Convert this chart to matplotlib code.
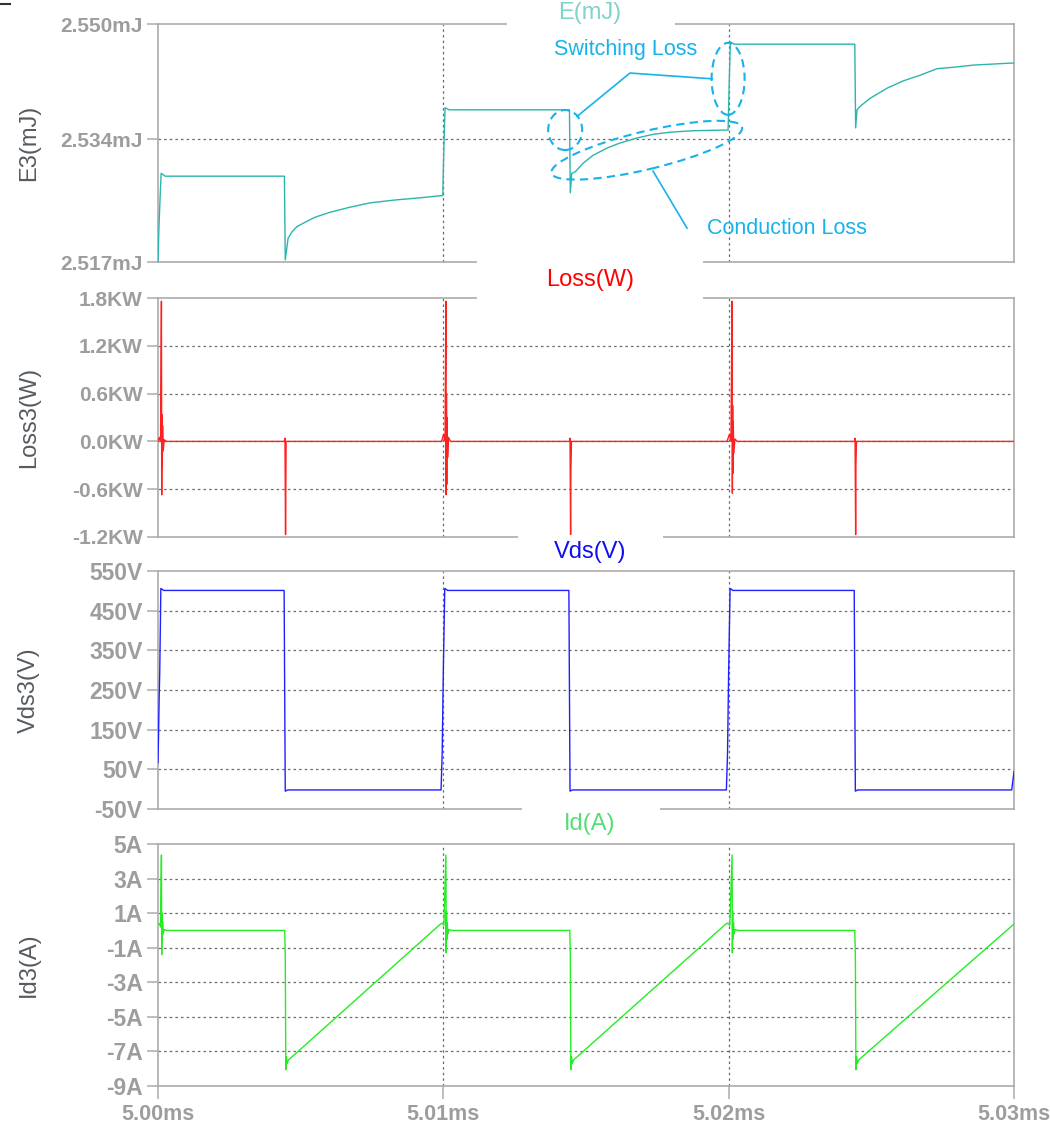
import matplotlib

matplotlib.use("Agg")
import matplotlib.pyplot as plt
from matplotlib.lines import Line2D
from matplotlib.patches import Ellipse, Rectangle
from matplotlib.transforms import ScaledTranslation

# Time axis: microseconds after 5.00 ms
X_TICKS = [0, 10, 20, 30]
X_TICK_LABELS = ["5.00ms", "5.01ms", "5.02ms", "5.03ms"]

# E3 (mJ)
E3_T = [0.00, 0.03, 0.07, 0.11, 0.25, 4.43, 4.46, 4.56, 4.70, 4.87, 5.15, 5.50, 6.03, 6.73, 7.43, 8.31, 9.18, 9.92,
        9.98, 10.02, 10.06, 10.20, 14.42, 14.45, 14.50, 14.62, 14.90, 15.25, 15.74, 16.19, 16.79, 17.35, 17.95,
        18.75, 19.94,
        19.98, 20.02, 20.06, 20.20, 24.42, 24.45, 24.50, 24.61, 24.96, 25.55, 26.11, 26.71, 27.30, 27.87, 28.57,
        30.00]
E3_MJ = [2.5170, 2.5214, 2.5256, 2.5293, 2.5289, 2.5289, 2.5173, 2.5203, 2.5212, 2.5219, 2.5225, 2.5232, 2.5239,
         2.5246, 2.5252, 2.5256, 2.5259, 2.5262,
         2.5262, 2.5330, 2.5384, 2.5381, 2.5381, 2.5266, 2.5293, 2.5295, 2.5307, 2.5318, 2.5328, 2.5335, 2.5342,
         2.5347, 2.5350, 2.5352, 2.5353,
         2.5353, 2.5420, 2.5475, 2.5472, 2.5472, 2.5356, 2.5381, 2.5386, 2.5397, 2.5411, 2.5421, 2.5429, 2.5438,
         2.5440, 2.5443, 2.5446]
E3_TICKS = [2.517, 2.534, 2.550]
E3_TICK_LABELS = ["2.517mJ", "2.534mJ", "2.550mJ"]

# Loss3 (kW)
LOSS_T = [0.00, 0.05, 0.09, 0.12, 0.13, 0.14, 0.15, 0.16, 0.18, 0.22, 0.30, 4.43, 4.45, 4.47, 4.49,
          9.94, 10.01, 10.06, 10.09, 10.10, 10.11, 10.12, 10.13, 10.15, 10.18, 10.25, 14.42, 14.44, 14.46, 14.47, 14.49,
          19.94, 20.03, 20.08, 20.12, 20.13, 20.14, 20.15, 20.16, 20.18, 20.22, 20.30, 24.41, 24.43, 24.45, 24.46, 24.48,
          30.00]
LOSS_KW = [0.00, 0.05, 0.00, 1.76, -0.67, 0.34, -0.33, 0.20, -0.12, 0.02, 0.00, 0.00, 0.04, -1.17, 0.00,
           0.00, 0.09, 0.00, 1.76, -0.67, 0.60, -0.54, 0.30, -0.20, 0.05, 0.00, 0.00, 0.04, -1.17, -0.38, 0.00,
           0.00, 0.09, 0.00, 1.76, -0.65, 0.45, -0.40, 0.25, -0.15, 0.03, 0.00, 0.00, 0.04, -1.17, -0.30, 0.00,
           0.00]
LOSS_TICKS = [-1.2, -0.6, 0.0, 0.6, 1.2, 1.8]
LOSS_TICK_LABELS = ["-1.2KW", "-0.6KW", "0.0KW", "0.6KW", "1.2KW", "1.8KW"]

# Vds3 (V)
VDS_T = [0.00, 0.02, 0.04, 0.06, 0.10, 0.20, 4.42, 4.46, 4.55,
         9.92, 9.96, 10.00, 10.05, 10.15, 14.40, 14.44, 14.52,
         19.92, 19.96, 20.00, 20.05, 20.15, 24.40, 24.44, 24.52,
         29.92, 30.00]
VDS_V = [67, 140, 230, 290, 506, 501, 501, -5, -2,
         -2, 90, 300, 506, 501, 501, -5, -2,
         -2, 90, 300, 506, 501, 501, -5, -2,
         -2, 44]
VDS_TICKS = [-50, 50, 150, 250, 350, 450, 550]
VDS_TICK_LABELS = ["-50V", "50V", "150V", "250V", "350V", "450V", "550V"]

# Id3 (A)
ID_T = [0.00, 0.06, 0.09, 0.12, 0.13, 0.14, 0.15, 0.16, 0.18, 0.22, 0.30, 4.44, 4.46, 4.48, 4.50, 4.53, 4.57,
        9.90, 9.96,
        10.02, 10.09, 10.10, 10.11, 10.12, 10.14, 10.16, 10.20, 10.30, 14.43, 14.45, 14.47, 14.49, 14.52, 14.56,
        19.90, 19.96,
        20.04, 20.12, 20.13, 20.14, 20.15, 20.17, 20.19, 20.23, 20.33, 24.42, 24.44, 24.46, 24.48, 24.51, 24.55,
        30.00]
ID_A = [0.35, 0.40, 0.20, 4.36, -1.40, 1.00, -0.60, 0.50, -0.20, 0.05, 0.00, 0.00, -1.40, -8.05, -7.30, -7.70, -7.50,
        0.37, 0.42,
        0.30, 4.36, -1.30, 1.10, -0.55, 0.45, -0.20, 0.05, 0.00, 0.00, -1.40, -8.05, -7.30, -7.70, -7.50,
        0.37, 0.42,
        0.30, 4.36, -1.30, 1.10, -0.50, 0.45, -0.20, 0.05, 0.00, 0.00, -1.40, -8.05, -7.30, -7.70, -7.50,
        0.37]
ID_TICKS = [-9, -7, -5, -3, -1, 1, 3, 5]
ID_TICK_LABELS = ["-9A", "-7A", "-5A", "-3A", "-1A", "1A", "3A", "5A"]

W, H = 1050, 1128
SPINE = "#ababab"
TICK_TEXT = "#9d9d9d"
GRID = "#6a6a6a"
LABEL = "#555b60"
NOTE = "#17b2ea"
TEXT_FONT = ["Liberation Sans", "DejaVu Sans"]


def tick_font(size):
    return dict(family=TEXT_FONT, weight="bold", size=size, color=TICK_TEXT)


def fx(px):
    return px / W


def fy(py):
    return 1 - py / H


def make_panel(fig, top, bottom, t, y, color, ylim, yticks, ylabels, ylabel, label_size, bottom_axis=False):
    ax = fig.add_axes([fx(158), fy(bottom), fx(1014) - fx(158), fy(top) - fy(bottom)])
    ax.plot(t, y, color=color, linewidth=1.0, zorder=3)
    ax.set_xlim(0, 30)
    ax.set_ylim(*ylim)
    ax.set_yticks(yticks, ylabels, **tick_font(label_size))
    if bottom_axis:
        ax.set_xticks(X_TICKS, X_TICK_LABELS, **tick_font(15.5))
        ax.tick_params(axis="x", length=9, width=1.1, color=SPINE, pad=4)
    else:
        ax.set_xticks(X_TICKS, [])
        ax.tick_params(axis="x", length=0)
    ax.tick_params(axis="y", length=8, width=1.1, color=SPINE, pad=3)
    for spine in ax.spines.values():
        spine.set_color(SPINE)
        spine.set_linewidth(1.2)
    for yv in yticks[1:-1]:
        ax.axhline(yv, color=GRID, linewidth=0.9, linestyle=(0, (2, 2.5)), zorder=1)
    for xv in X_TICKS[1:-1]:
        ax.axvline(xv, color=GRID, linewidth=0.9, linestyle=(0, (2, 2.5)), zorder=1)
    ax.set_ylabel(ylabel, family=TEXT_FONT, fontsize=17, color=LABEL)
    ax.yaxis.set_label_coords((40 - 158) / 856, 0.5)
    return ax


fig = plt.figure(figsize=(W / 100, H / 100), dpi=100)

ax_e = make_panel(fig, 24, 262, E3_T, E3_MJ, "#2bb5ad", (2.517, 2.550), E3_TICKS, E3_TICK_LABELS, "E3(mJ)", 15)
ax_l = make_panel(fig, 298, 537, LOSS_T, LOSS_KW, "#ff2020", (-1.2, 1.8), LOSS_TICKS, LOSS_TICK_LABELS,
                  "Loss3(W)", 15)
ax_v = make_panel(fig, 571, 809, VDS_T, VDS_V, "#1f1fff", (-50, 550), VDS_TICKS, VDS_TICK_LABELS, "Vds3(V)", 16.5)
ax_i = make_panel(fig, 844, 1086, ID_T, ID_A, "#22ee22", (-9, 5), ID_TICKS, ID_TICK_LABELS, "Id3(A)", 16.5,
                  bottom_axis=True)

# white title boxes break the frame lines
for x0, x1, y0, y1 in [(507, 675, 16, 28), (477, 703, 258, 302), (518, 663, 535, 540), (522, 660, 806, 812)]:
    fig.patches.append(Rectangle((fx(x0), fy(y1)), fx(x1) - fx(x0), fy(y0) - fy(y1),
                                 transform=fig.transFigure, facecolor="white", edgecolor="none", zorder=5))

for label, color, py in [("E(mJ)", "#7fd3c9", 13), ("Loss(W)", "#ff0000", 280),
                         ("Vds(V)", "#1010ee", 552), ("Id(A)", "#55dd77", 824)]:
    fig.text(fx(590), fy(py), label, ha="center", va="center", color=color,
             family=TEXT_FONT, fontsize=17, zorder=6)

# small mark in the top-left corner
fig.add_artist(Line2D([0, fx(10)], [fy(4), fy(4)], color="#333333", linewidth=1.5, transform=fig.transFigure))


# loss annotations on the energy trace
def note_ellipse(ax, t, e, w_px, h_px, angle):
    trans = fig.dpi_scale_trans + ScaledTranslation(t, e, ax.transData)
    ax.add_patch(Ellipse((0, 0), w_px / 100, h_px / 100, angle=angle, transform=trans, fill=False,
                         edgecolor=NOTE, linewidth=1.5, linestyle=(0, (4, 2.5)), zorder=4, clip_on=False))


note_ellipse(ax_e, 14.27, 2.5353, 34, 40, 0)
note_ellipse(ax_e, 19.98, 2.5424, 33, 72, 0)
note_ellipse(ax_e, 17.13, 2.5325, 196, 38, 13.5)
ax_e.plot([14.69, 16.54, 19.42], [2.5372, 2.5432, 2.5424], color=NOTE, linewidth=1.2, zorder=4)
ax_e.plot([17.35, 18.54], [2.5296, 2.5217], color=NOTE, linewidth=1.2, zorder=4)
ax_e.text(16.40, 2.5464, "Switching Loss", ha="center", va="center", color=NOTE, family=TEXT_FONT,
          fontsize=15.5, zorder=5)
ax_e.text(19.24, 2.5217, "Conduction Loss", ha="left", va="center", color=NOTE, family=TEXT_FONT,
          fontsize=15.5, zorder=5)

fig.savefig("out.png", dpi=100)
